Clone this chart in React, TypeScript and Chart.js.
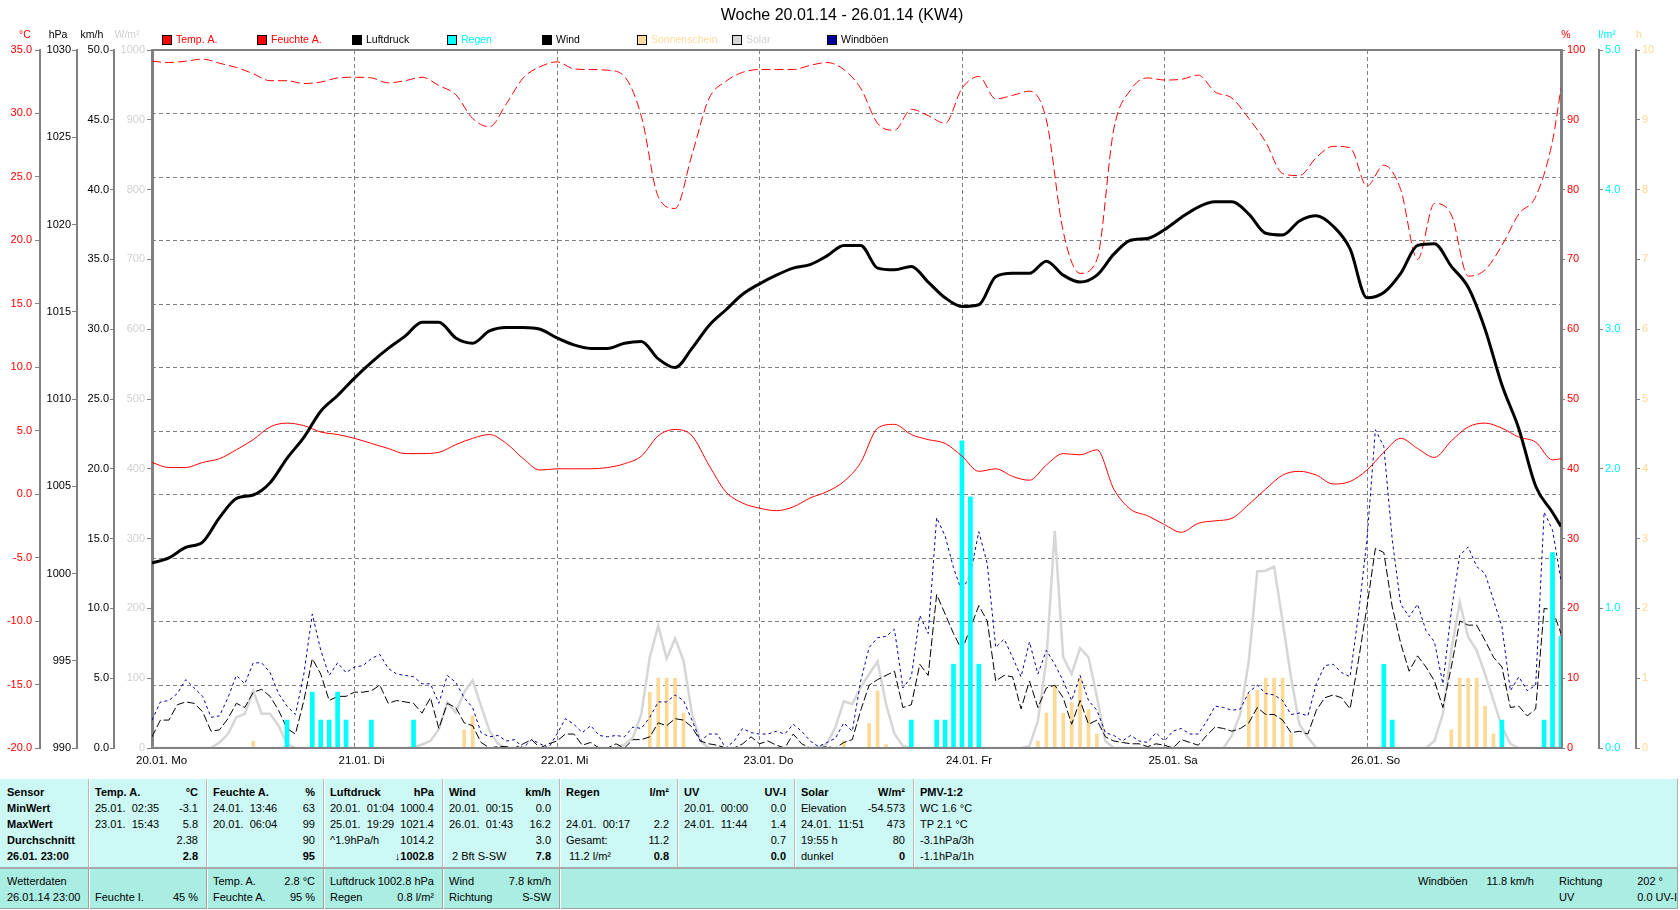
import React, { useEffect, useRef } from "react";
import { Chart, registerables } from "chart.js";
Chart.register(...registerables);

const FONT = "'Liberation Sans', Arial, Helvetica, sans-serif";

// ---------- chart text ----------
const chartTitle = "Woche 20.01.14 - 26.01.14 (KW4)";
const dayDates = ["20.01.", "21.01.", "22.01.", "23.01.", "24.01.", "25.01.", "26.01."];
const dayNames = ["Mo", "Di", "Mi", "Do", "Fr", "Sa", "So"];

const seriesNames = ["Temp. A.", "Feuchte A.", "Luftdruck", "Regen", "Wind", "Sonnenschein", "Solar", "Windböen"];
const seriesColors = ["#ff0000", "#ff0000", "#000000", "#00ffff", "#000000", "#ffdc9c", "#d6d6d6", "#0000a0"];
const legendTextColors = ["#ff0000", "#ff0000", "#000000", "#00ffff", "#000000", "#ffdc9c", "#d0d0d0", "#000000"];

const axisUnits = ["°C", "hPa", "km/h", "W/m²", "%", "l/m²", "h"];
const axisUnitColors = ["#ff0000", "#000000", "#000000", "#d0d0d0", "#ff0000", "#00f0f8", "#ffd890"];

// ---------- data: 2-hourly (h = 0,2,...,166 and 167) ----------
const tempC = [
  2.5, 2.1, 2.1, 2.5, 2.8, 3.5, 4.3, 5.3, 5.6, 5.4, 4.9, 4.7,
  4.4, 4.0, 3.6, 3.2, 3.2, 3.3, 3.9, 4.4, 4.7, 4.0, 2.8, 1.9,
  2.0, 2.0, 2.0, 2.1, 2.4, 3.0, 4.6, 5.1, 4.6, 2.3, 0.2, -0.7,
  -1.1, -1.3, -1.0, -0.3, 0.2, 1.0, 2.5, 5.2, 5.5, 4.7, 4.3, 4.0,
  3.0, 1.8, 2.0, 1.4, 1.1, 2.3, 3.2, 3.1, 3.5, 0.4, -1.2, -1.7,
  -2.4, -3.0, -2.3, -2.1, -1.9, -0.8, 0.4, 1.5, 1.8, 1.5, 0.8, 1.0,
  1.9, 3.3, 4.4, 3.6, 2.9, 4.2, 5.3, 5.6, 5.2, 4.5, 4.1, 2.7,
  2.8,
];
const humidity = [
  98.4, 98.2, 98.4, 98.7, 98.1, 97.5, 96.6, 95.6, 95.6, 95.2, 95.4, 96.0,
  96.1, 96.0, 95.3, 95.6, 96.1, 94.9, 93.6, 90.2, 89.0, 92.3, 96.0, 97.6,
  98.3, 97.3, 97.2, 97.1, 96.2, 90.5, 79.0, 77.3, 85.0, 93.0, 95.5, 96.8,
  97.2, 97.2, 97.2, 97.8, 98.2, 97.2, 94.5, 89.5, 88.5, 91.5, 90.6, 89.5,
  94.5, 96.2, 93.0, 93.5, 94.1, 90.0, 74.0, 68.0, 70.0, 88.7, 94.3, 96.0,
  95.7, 95.8, 96.4, 94.0, 93.1, 90.2, 86.8, 82.3, 82.0, 84.6, 86.2, 86.0,
  80.5, 83.5, 80.0, 70.0, 78.0, 76.4, 67.6, 68.5, 72.0, 76.5, 79.0, 87.0,
  94.5,
];
const pressure = [
  1000.6, 1000.9, 1001.5, 1001.8, 1003.2, 1004.3, 1004.5, 1005.2, 1006.6, 1007.8, 1009.3, 1010.2,
  1011.2, 1012.1, 1012.9, 1013.6, 1014.4, 1014.4, 1013.5, 1013.2, 1013.9, 1014.1, 1014.1, 1014.0,
  1013.5, 1013.1, 1012.9, 1012.9, 1013.2, 1013.3, 1012.3, 1011.8, 1012.9, 1014.2, 1015.1, 1016.0,
  1016.6, 1017.1, 1017.5, 1017.7, 1018.2, 1018.8, 1018.8, 1017.5, 1017.4, 1017.6, 1016.7, 1015.8,
  1015.3, 1015.4, 1017.0, 1017.2, 1017.2, 1017.9, 1017.1, 1016.7, 1017.1, 1018.3, 1019.1, 1019.2,
  1019.7, 1020.4, 1021.0, 1021.3, 1021.3, 1020.6, 1019.5, 1019.4, 1020.2, 1020.5, 1019.9, 1018.6,
  1015.8, 1016.1, 1017.2, 1018.8, 1018.9, 1017.6, 1016.4, 1014.0, 1010.8, 1008.3, 1005.0, 1003.5,
  1002.7,
];

// ---------- data: hourly (h = 0..167) ----------
const windSpeed = [
  0.8, 2.0, 2.0, 3.1, 3.3, 3.2, 2.6, 1.2, 1.3, 2.1, 3.2, 2.9, 4.0, 4.2, 3.7, 2.7, 1.4, 1.0, 3.4, 6.4, 5.3, 3.4, 3.7, 3.7,
  4.0, 4.0, 4.1, 4.5, 3.2, 3.4, 3.3, 3.2, 2.5, 3.6, 1.4, 3.2, 2.9, 1.8, 1.6, 0.4, 0.0, 0.1, 0.1, 0.0, 0.3, 0.6, 0.0, 0.3,
  0.5, 1.0, 1.0, 0.2, 0.4, 0.0, 0.0, 0.3, 0.0, 0.6, 0.6, 0.8, 1.8, 1.6, 2.1, 2.0, 1.5, 0.5, 0.3, 0.2, 0.0, 0.0, 0.3, 0.8,
  0.3, 0.5, 0.2, 0.0, 1.0, 0.3, 0.0, 0.0, 0.1, 0.0, 0.4, 0.6, 2.7, 4.5, 4.9, 5.2, 5.5, 2.9, 3.1, 6.0, 5.2, 11.0, 9.6, 8.2,
  7.0, 8.6, 10.2, 9.1, 4.8, 5.2, 5.1, 2.8, 4.8, 2.9, 4.3, 4.5, 3.6, 1.7, 3.4, 1.7, 2.0, 0.8, 0.5, 0.4, 0.3, 0.3, 0.1, 0.3,
  0.2, 0.0, 0.6, 0.4, 0.2, 0.9, 1.5, 1.4, 1.2, 1.4, 1.8, 2.9, 2.4, 2.4, 2.0, 1.1, 1.2, 1.0, 2.7, 3.6, 3.8, 3.6, 2.8, 6.3,
  10.1, 14.3, 14.0, 10.1, 7.5, 5.5, 6.6, 5.8, 4.8, 2.9, 5.8, 9.1, 8.8, 8.8, 7.7, 6.5, 5.8, 2.9, 3.0, 2.3, 2.8, 10.0, 9.9, 8.2,
];
const windGusts = [
  2.0, 3.3, 3.4, 3.9, 4.9, 4.3, 3.7, 2.2, 2.3, 3.6, 5.2, 4.6, 6.1, 6.1, 5.4, 3.9, 3.0, 2.4, 5.3, 9.6, 7.0, 5.2, 6.1, 5.4,
  5.8, 5.9, 6.4, 6.7, 5.7, 5.3, 5.2, 5.1, 4.6, 4.6, 3.2, 5.2, 4.7, 3.6, 2.9, 1.1, 0.8, 0.9, 0.5, 0.6, 0.0, 0.6, 0.3, 0.0,
  1.0, 2.1, 1.7, 1.1, 1.6, 0.9, 0.8, 0.9, 0.8, 1.5, 1.4, 2.2, 3.3, 3.3, 3.8, 3.4, 2.0, 0.5, 1.0, 1.0, 0.0, 0.5, 1.4, 1.1,
  1.0, 1.0, 1.2, 1.0, 1.7, 1.2, 0.5, 0.1, 0.4, 0.7, 1.8, 1.2, 4.8, 7.2, 7.9, 8.0, 8.5, 4.3, 5.1, 9.5, 8.2, 16.5, 15.2, 12.9,
  11.2, 12.5, 15.5, 13.2, 7.2, 7.8, 6.5, 5.1, 7.6, 5.3, 7.0, 6.0, 4.8, 3.4, 5.2, 3.4, 2.7, 1.1, 0.9, 0.5, 0.9, 0.5, 0.4, 1.1,
  0.5, 1.2, 1.4, 1.0, 1.0, 1.9, 3.0, 2.9, 2.7, 2.8, 4.0, 4.5, 3.9, 3.8, 3.4, 2.4, 2.5, 2.3, 4.6, 5.9, 6.0, 5.4, 5.1, 9.6,
  14.9, 22.8, 21.6, 14.9, 10.3, 9.4, 10.3, 8.4, 7.6, 4.6, 9.8, 13.8, 14.4, 13.0, 12.5, 10.6, 8.7, 4.1, 5.1, 4.1, 4.5, 16.9, 15.6, 12.0,
];
const solarRad = [
  0, 0, 0, 0, 0, 0, 0, 0, 8, 20, 44, 49, 82, 49, 49, 32, 6, 0, 0, 0, 0, 0, 0, 0,
  0, 0, 0, 0, 0, 0, 0, 1, 5, 10, 27, 65, 51, 80, 97, 60, 25, 6, 0, 0, 0, 0, 0, 0,
  0, 0, 0, 0, 0, 0, 0, 0, 5, 15, 49, 130, 175, 128, 157, 125, 49, 10, 0, 0, 0, 0, 0, 0,
  0, 0, 0, 0, 0, 0, 0, 1, 6, 30, 67, 63, 87, 106, 124, 63, 20, 3, 0, 0, 0, 0, 0, 0,
  0, 0, 0, 0, 0, 0, 0, 0, 3, 39, 125, 311, 130, 106, 143, 130, 73, 10, 0, 0, 0, 0, 0, 0,
  0, 0, 0, 0, 0, 0, 0, 0, 18, 49, 125, 253, 254, 260, 182, 101, 34, 15, 0, 0, 0, 0, 0, 0,
  0, 0, 0, 0, 0, 0, 0, 0, 10, 49, 140, 209, 159, 140, 106, 68, 30, 6, 0, 0, 0, 0, 0, 0,
];
const rainHours = [16, 19, 20, 21, 22, 23, 26, 31, 90, 93, 94, 95, 96, 97, 98, 146, 147, 160, 165, 166, 167];
const rainAmounts = [0.2, 0.4, 0.2, 0.2, 0.4, 0.2, 0.2, 0.2, 0.2, 0.2, 0.2, 0.6, 2.2, 1.8, 0.6, 0.6, 0.2, 0.2, 0.2, 1.4, 0.8];
const sunHours = [12, 37, 38, 59, 60, 61, 62, 63, 82, 85, 86, 87, 105, 106, 107, 108, 109, 110, 111, 112, 130, 131, 132, 133, 134, 135, 154, 155, 156, 157, 158, 159];
const sunAmounts = [0.1, 0.26, 0.46, 0.8, 1.0, 1.0, 1.0, 0.5, 0.1, 0.35, 0.82, 0.05, 0.1, 0.5, 0.9, 0.5, 0.65, 1.0, 0.55, 0.2, 0.77, 0.83, 1.0, 1.0, 1.0, 0.2, 0.26, 1.0, 1.0, 1.0, 0.6, 0.2];

// ---------- table text ----------
const sensorRows = ["Sensor", "MinWert", "MaxWert", "Durchschnitt", "26.01. 23:00"];
const statColumns: { title: string; unit: string; rows: [string, string][] }[] = [
  { title: "Temp. A.", unit: "°C", rows: [["25.01.  02:35", "-3.1"], ["23.01.  15:43", "5.8"], ["", "2.38"], ["", "2.8"]] },
  { title: "Feuchte A.", unit: "%", rows: [["24.01.  13:46", "63"], ["20.01.  06:04", "99"], ["", "90"], ["", "95"]] },
  { title: "Luftdruck", unit: "hPa", rows: [["20.01.  01:04", "1000.4"], ["25.01.  19:29", "1021.4"], ["^1.9hPa/h", "1014.2"], ["", "↓1002.8"]] },
  { title: "Wind", unit: "km/h", rows: [["20.01.  00:15", "0.0"], ["26.01.  01:43", "16.2"], ["", "3.0"], [" 2 Bft S-SW", "7.8"]] },
  { title: "Regen", unit: "l/m²", rows: [["", ""], ["24.01.  00:17", "2.2"], ["Gesamt:", "11.2"], [" 11.2 l/m²", "0.8"]] },
  { title: "UV", unit: "UV-I", rows: [["20.01.  00:00", "0.0"], ["24.01.  11:44", "1.4"], ["", "0.7"], ["", "0.0"]] },
  { title: "Solar", unit: "W/m²", rows: [["Elevation", "-54.573"], ["24.01.  11:51", "473"], ["19:55 h", "80"], ["dunkel", "0"]] },
  { title: "PMV-1:2", unit: "", rows: [["WC 1.6 °C", ""], ["TP 2.1 °C", ""], ["-3.1hPa/3h", ""], ["-1.1hPa/1h", ""]] },
];
const currentCells: [string, string][][] = [
  [["Wetterdaten", ""], ["26.01.14 23:00", ""]],
  [["", ""], ["Feuchte I.", "45 %"]],
  [["Temp. A.", "2.8 °C"], ["Feuchte A.", "95 %"]],
  [["Luftdruck", "1002.8 hPa"], ["Regen", "0.8 l/m²"]],
  [["Wind", "7.8 km/h"], ["Richtung", "S-SW"]],
];
const gustCell: [string, string][] = [["Windböen", "11.8 km/h"], ["", ""]];
const dirCell: [string, string][] = [["Richtung", "202 °"], ["UV", "0.0 UV-I"]];

// ---------- layout constants ----------
const colEdges = [0, 88, 206, 323, 442, 559, 677, 794, 913];
const unitX = [25, 58, 92, 127, 1566, 1607, 1639];

const slowTimes = Array.from({ length: 84 }, (_, i) => i * 2).concat([167]);
const hourTimes = Array.from({ length: 168 }, (_, i) => i);

function axis(pos: string, weight: number, min: number, max: number, step: number, color: string,
  width: number, dec: number, tickLen: number, pad: number, borderW: number) {
  return {
    type: "linear", position: pos, weight, min, max,
    afterFit: (s: any) => { s.width = width; },
    ticks: {
      stepSize: step, color, padding: pad, autoSkip: false,
      font: { family: FONT, size: 11 },
      callback: (v: any) => Number(v).toFixed(dec),
    },
    grid: { drawOnChartArea: false, drawTicks: true, tickLength: tickLen, color: "#808080", tickColor: "#808080", lineWidth: 1 },
    border: { display: true, color: "#808080", width: borderW },
  };
}

const decorPlugin = {
  id: "wxDecor",
  beforeDatasetsDraw(chart: any) {
    const { ctx, chartArea: a, scales } = chart;
    ctx.save();
    ctx.strokeStyle = "#808080";
    ctx.lineWidth = 1;
    ctx.setLineDash([4, 3]);
    for (const t of scales.yT.ticks) {
      if (t.value <= -20 || t.value >= 35) continue;
      const y = Math.round(scales.yT.getPixelForValue(t.value)) + 0.5;
      ctx.beginPath(); ctx.moveTo(a.left, y); ctx.lineTo(a.right, y); ctx.stroke();
    }
    for (let d = 1; d < dayDates.length; d++) {
      const x = Math.round(scales.x.getPixelForValue(d * 24)) + 0.5;
      ctx.beginPath(); ctx.moveTo(x, a.top); ctx.lineTo(x, a.bottom); ctx.stroke();
    }
    ctx.restore();
  },
  afterDatasetsDraw(chart: any) {
    const { ctx, chartArea: a } = chart;
    ctx.save();
    ctx.strokeStyle = "#808080";
    ctx.lineWidth = 2;
    ctx.beginPath(); ctx.moveTo(a.left - 1, a.top); ctx.lineTo(a.right + 1, a.top); ctx.stroke();
    ctx.beginPath(); ctx.moveTo(a.left - 1, a.bottom); ctx.lineTo(a.right + 1, a.bottom); ctx.stroke();
    ctx.restore();
  },
  afterDraw(chart: any) {
    const { ctx, scales } = chart;
    ctx.save();
    ctx.textBaseline = "middle";
    // title
    ctx.font = `16px ${FONT}`;
    ctx.fillStyle = "#000";
    ctx.textAlign = "center";
    ctx.fillText(chartTitle, 842, 16);
    // units
    ctx.font = `10.5px ${FONT}`;
    axisUnits.forEach((u, i) => {
      ctx.fillStyle = axisUnitColors[i];
      ctx.fillText(u, unitX[i], 35);
    });
    // legend
    ctx.textAlign = "left";
    seriesNames.forEach((name, i) => {
      const x = 162 + i * 95;
      ctx.fillStyle = seriesColors[i];
      ctx.fillRect(x, 35, 10, 10);
      ctx.strokeStyle = "#000";
      ctx.lineWidth = 1;
      ctx.strokeRect(x + 0.5, 35.5, 9, 9);
      ctx.fillStyle = legendTextColors[i];
      ctx.fillText(name, x + 14, 40);
    });
    // x labels
    ctx.font = `11.5px ${FONT}`;
    ctx.fillStyle = "#000";
    dayDates.forEach((d, i) => {
      const px = scales.x.getPixelForValue(i * 24);
      const w = ctx.measureText(d).width;
      ctx.fillText(`${d} ${dayNames[i]}`, px - w / 2, 761);
    });
    ctx.restore();
  },
};

function TextRow({ x0, x1, top, left, right, boldL, boldR }: any) {
  return (
    <div style={{
      position: "absolute", left: x0 + 7, width: x1 - x0 - 15, top, height: 16, lineHeight: "16px",
      display: "flex", justifyContent: "space-between", whiteSpace: "pre", fontSize: 11, color: "#000",
    }}>
      <span style={{ fontWeight: boldL ? "bold" : "normal" }}>{left}</span>
      <span style={{ fontWeight: boldR ? "bold" : "normal" }}>{right}</span>
    </div>
  );
}

function StatsTable() {
  const upperTops = [784, 800, 816, 832, 848];
  const lowerTops = [873, 889];
  const items: any[] = [];
  sensorRows.forEach((s, r) => items.push(<TextRow key={"s" + r} x0={0} x1={88} top={upperTops[r]} left={s} right="" boldL />));
  statColumns.forEach((c, ci) => {
    const x0 = colEdges[ci + 1];
    const x1 = ci + 2 < colEdges.length ? colEdges[ci + 2] : 1031;
    items.push(<TextRow key={"h" + ci} x0={x0} x1={x1} top={upperTops[0]} left={c.title} right={c.unit} boldL boldR />);
    c.rows.forEach((row, r) => items.push(
      <TextRow key={`c${ci}-${r}`} x0={x0} x1={x1} top={upperTops[r + 1]} left={row[0]} right={row[1]} boldR={r === 3} />));
  });
  currentCells.forEach((cell, ci) => {
    cell.forEach((row, r) => items.push(
      <TextRow key={`l${ci}-${r}`} x0={colEdges[ci]} x1={colEdges[ci + 1]} top={lowerTops[r]} left={row[0]} right={row[1]} />));
  });
  gustCell.forEach((row, r) => items.push(<TextRow key={`g${r}`} x0={1411} x1={1542} top={lowerTops[r]} left={row[0]} right={row[1]} />));
  dirCell.forEach((row, r) => items.push(<TextRow key={`d${r}`} x0={1552} x1={r === 0 ? 1671 : 1685} top={lowerTops[r]} left={row[0]} right={row[1]} />));

  const seps: any[] = [];
  colEdges.slice(1).forEach((x, i) => {
    seps.push(<div key={"us" + i} style={{ position: "absolute", left: x, top: 779, width: 1, height: 88, background: "#b8b8b8", borderRight: "1px solid #ffffff" }} />);
  });
  colEdges.slice(1, 6).forEach((x, i) => {
    seps.push(<div key={"ls" + i} style={{ position: "absolute", left: x, top: 869, width: 1, height: 40, background: "#a0a0a0", borderRight: "1px solid #ffffff" }} />);
  });
  return (
    <div style={{ position: "absolute", left: 0, top: 0, width: 1680, height: 910, fontFamily: FONT }}>
      <div style={{ position: "absolute", left: 0, top: 778, width: 1678, height: 89, background: "#ccf9f5", borderTop: "1px solid #ffffff", borderRight: "1px solid #b0b0b0", boxSizing: "border-box" }} />
      <div style={{ position: "absolute", left: 0, top: 867, width: 1678, height: 42, background: "#aaeee3", borderTop: "2px solid #a8a8a8", borderBottom: "1px solid #a0a0a0", borderRight: "1px solid #a0a0a0", boxSizing: "border-box" }} />
      {seps}
      {items}
    </div>
  );
}

export default function App() {
  const ref = useRef<HTMLCanvasElement>(null);
  useEffect(() => {
    const lineXY = (times: number[], vals: number[]) => times.map((x, i) => ({ x, y: vals[i] }));
    const chart = new Chart(ref.current as HTMLCanvasElement, {
      type: "line",
      data: {
        datasets: [
          { label: seriesNames[0], data: lineXY(slowTimes, tempC), yAxisID: "yT", borderColor: seriesColors[0], borderWidth: 1, pointRadius: 0, cubicInterpolationMode: "monotone", order: 2 } as any,
          { label: seriesNames[1], data: lineXY(slowTimes, humidity), yAxisID: "yH", borderColor: seriesColors[1], borderWidth: 1, borderDash: [9, 4], pointRadius: 0, cubicInterpolationMode: "monotone", order: 3 },
          { label: seriesNames[2], data: lineXY(slowTimes, pressure), yAxisID: "yP", borderColor: seriesColors[2], borderWidth: 3, pointRadius: 0, cubicInterpolationMode: "monotone", order: 1 },
          { type: "bar", label: seriesNames[3], data: lineXY(rainHours, rainAmounts), yAxisID: "yR", backgroundColor: seriesColors[3], barThickness: 4, grouped: false, order: 4 },
          { label: seriesNames[4], data: lineXY(hourTimes, windSpeed), yAxisID: "yW", borderColor: seriesColors[4], borderWidth: 1, borderDash: [8, 3], pointRadius: 0, tension: 0, order: 6 },
          { type: "bar", label: seriesNames[5], data: lineXY(sunHours, sunAmounts), yAxisID: "ySun", backgroundColor: "#fcd995", barThickness: 3, grouped: false, order: 7 },
          { label: seriesNames[6], data: lineXY(hourTimes, solarRad), yAxisID: "yS", borderColor: seriesColors[6], borderWidth: 2.5, pointRadius: 0, tension: 0, order: 8 },
          { label: seriesNames[7], data: lineXY(hourTimes, windGusts), yAxisID: "yW", borderColor: seriesColors[7], borderWidth: 1, borderDash: [3, 3], pointRadius: 0, tension: 0, order: 5 },
        ] as any,
      },
      options: {
        animation: false,
        responsive: false,
        events: [],
        layout: { padding: { top: 50, bottom: 30, left: 0, right: 0 } },
        plugins: { legend: { display: false }, title: { display: false }, tooltip: { enabled: false } },
        scales: {
          x: { type: "linear", min: 0, max: 167, display: false, offset: false },
          yT: axis("left", 4, -20, 35, 5, "#ff0000", 40, 1, 5, 3, 2),
          yP: axis("left", 3, 990, 1030, 5, "#000000", 37, 0, 5, 1, 2),
          yW: axis("left", 2, 0, 50, 5, "#000000", 37, 1, 4, 1, 2),
          yS: axis("left", 1, 0, 1000, 100, "#d0d0d0", 38, 0, 5, 2, 3),
          yH: axis("right", 1, 0, 100, 10, "#ff0000", 38, 0, 4, 2, 3),
          yR: axis("right", 2, 0, 5, 1, "#00f0f8", 37, 1, 4, 2, 2),
          ySun: axis("right", 3, 0, 10, 1, "#ffd890", 44, 0, 4, 2, 2),
        } as any,
      },
      plugins: [decorPlugin],
    } as any);
    return () => chart.destroy();
  }, []);

  return (
    <div style={{ position: "absolute", left: 0, top: 0, width: 1680, height: 910, background: "#ffffff", fontFamily: FONT }}>
      <canvas ref={ref} width={1680} height={778} style={{ display: "block", position: "absolute", left: 0, top: 0 }} />
      <StatsTable />
    </div>
  );
}
